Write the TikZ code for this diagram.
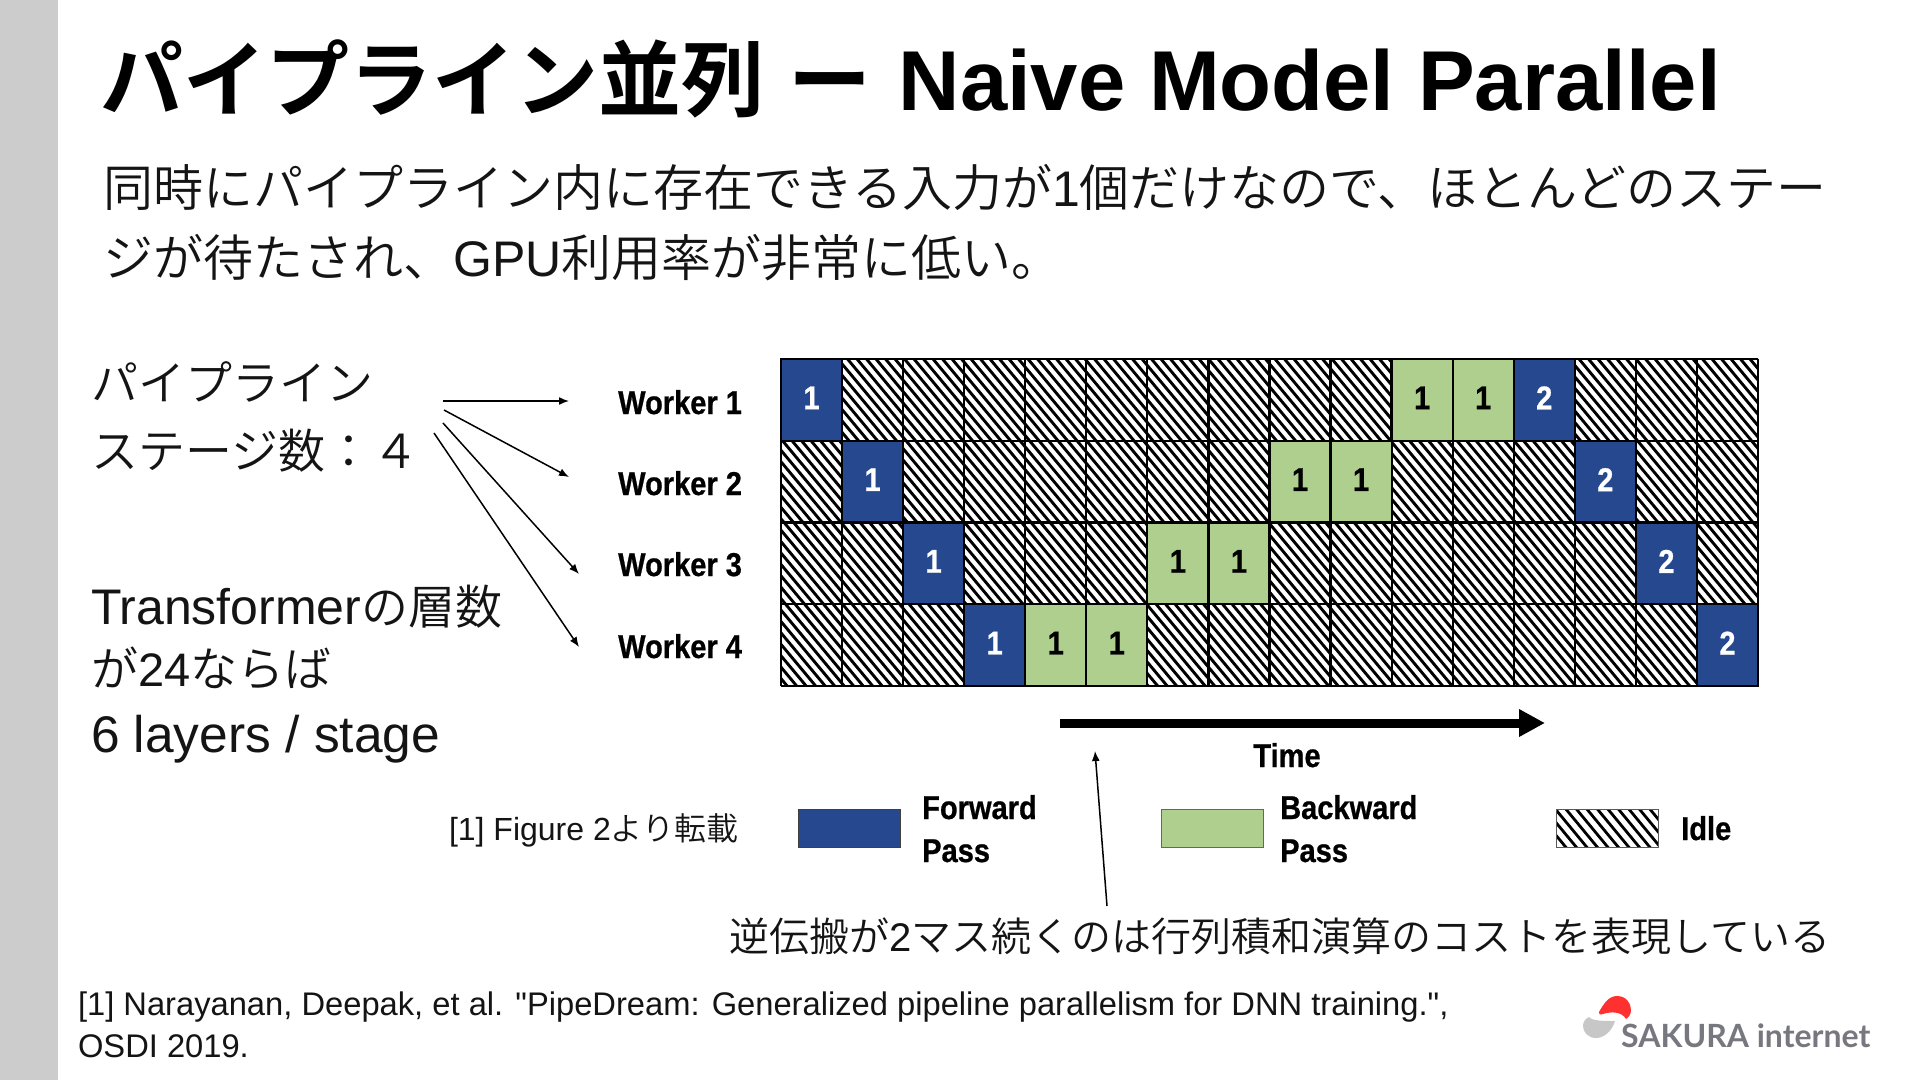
\documentclass[tikz,border=0pt]{standalone}
\usepackage{fontspec}
\setmainfont{Noto Sans CJK JP DemiLight}
\newfontfamily\titlefont{Noto Sans CJK JP Bold}
\newfontfamily\titlelat{Liberation Sans Bold}
\newfontfamily\lat{Liberation Sans}
\newfontfamily\figfont[FakeStretch=0.88,FakeBold=0.7]{Liberation Sans Bold}
\newfontfamily\logofont{Lato Bold}
\newcommand{\fsz}[1]{\fontsize{#1}{#1}\selectfont}
\newcommand{\la}[1]{{\lat #1}}
\usetikzlibrary{arrows.meta}
\definecolor{fwdblue}{HTML}{25488F}
\definecolor{backgreen}{HTML}{AFCF8E}
\definecolor{logogray}{HTML}{77777F}
\definecolor{barGray}{HTML}{CCCCCC}
\tikzset{
 txt/.style={anchor=base west,inner sep=0pt,outer sep=0pt,text=black!92},
 figlabel/.style={anchor=base west,inner sep=0pt,text=black,font=\figfont\fsz{33}},
 cellf/.style={draw=black,line width=2.2pt,fill=fwdblue,minimum width=61.1pt,minimum height=81.8pt,inner sep=0pt,text=white,font=\figfont\fsz{33}},
 cellb/.style={draw=black,line width=2.2pt,fill=backgreen,minimum width=61.1pt,minimum height=81.8pt,inner sep=0pt,text=black,font=\figfont\fsz{33}},
 arr/.style={draw=black,line width=1.5pt,-{Latex[length=10pt,width=8pt]},shorten >=0pt},
 hatchline/.style={draw=black,line width=2.9pt},
 legendbox/.style={minimum width=102pt,minimum height=38pt,inner sep=0pt,anchor=north west,line width=1.4pt}
}
\begin{document}
\begin{tikzpicture}[x=1pt,y=-1pt]
\useasboundingbox (0,0) rectangle (1920,1080);
\fill[white] (0,0) rectangle (1920,1080);
\fill[barGray] (0,0) rectangle (57.5,1080);
% title and body
\node[txt,text=black] (title) at (100,110) {\fsz{83}\titlefont パイプライン並列\hspace{6pt} ー\hspace{8pt} {\titlelat\fsz{85}Naive Model Parallel}};
\node[txt] (body1) at (103,206) {\fsz{50}同時にパイプライン内に存在できる入力が\la{1}個だけなので、ほとんどのステー};
\node[txt] (body2) at (103,276) {\fsz{50}ジが待たされ、\la{GPU}利用率が非常に低い。};
\node[txt] (left1) at (91,400) {\fsz{47}パイプライン};
\node[txt] (left2) at (91,468) {\fsz{47}ステージ数：４};
\node[txt] (left3) at (91,624) {\fsz{47}{\lat\fsz{50}Transformer}の層数};
\node[txt] (left4) at (91,686) {\fsz{47}が\la{24}ならば};
\node[txt] (left5) at (91,752) {\fsz{51.5}\la{6 layers / stage}};
% grid hatch
\begin{scope}
\clip (781,359) rectangle (1758,686);
\foreach \k in {-36,...,130}{
  \draw[hatchline] ({781+\k*9.5},359) ++(-10,-12) -- ++(308,370);
}
\end{scope}
\foreach \c in {0,...,16}{
  \draw[black,line width=2.2pt] ({781+\c*61.06},359) -- ({781+\c*61.06},686);
}
\foreach \r in {0,...,4}{
  \draw[black,line width=2.2pt] (781,{359+\r*81.75}) -- (1758,{359+\r*81.75});
}
% coloured cells
\foreach \nm/\c/\r/\st/\lab in {
 a/0/0/cellf/1,b/1/1/cellf/1,c/2/2/cellf/1,d/3/3/cellf/1,
 e/4/3/cellb/1,f/5/3/cellb/1,g/6/2/cellb/1,h/7/2/cellb/1,
 i/8/1/cellb/1,j/9/1/cellb/1,k/10/0/cellb/1,l/11/0/cellb/1,
 m/12/0/cellf/2,n/13/1/cellf/2,o/14/2/cellf/2,p/15/3/cellf/2}{
  \node[\st] (cell\nm) at ({781+(\c+0.5)*61.06},{359+(\r+0.5)*81.75}) {\raisebox{4pt}{\lab}};
}
% worker labels
\node[figlabel] (w1) at (618,414) {Worker 1};
\node[figlabel] (w2) at (618,495) {Worker 2};
\node[figlabel] (w3) at (618,576) {Worker 3};
\node[figlabel] (w4) at (618,658) {Worker 4};
% pipeline arrows
\coordinate (s1) at (443,401); \coordinate (t1) at (569,401);
\coordinate (s2) at (444,410); \coordinate (t2) at (569,477);
\coordinate (s3) at (443,423); \coordinate (t3) at (579,574);
\coordinate (s4) at (434,433); \coordinate (t4) at (579,647);
\draw[arr] (s1) -- (t1);
\draw[arr] (s2) -- (t2);
\draw[arr] (s3) -- (t3);
\draw[arr] (s4) -- (t4);
% time arrow
\coordinate (ts) at (1060,723); \coordinate (te) at (1545,723);
\draw[black,line width=9pt,-{Triangle[length=26pt,width=26pt]}] (ts) -- (te);
\node[figlabel,anchor=base] (time) at (1287,767) {Time};
% legend
\node[legendbox,draw=black!75,fill=fwdblue] (lf) at (798,809) {};
\node[legendbox,draw=black!60,fill=backgreen] (lb) at (1161,809) {};
\node[figlabel] (lf1) at (922,819) {Forward};
\node[figlabel] (lf2) at (922,862) {Pass};
\node[figlabel] (lb1) at (1280,819) {Backward};
\node[figlabel] (lb2) at (1280,862) {Pass};
\begin{scope}
\clip (1556,809) rectangle (1658,847);
\foreach \k in {-6,...,14}{
  \draw[black,line width=2.8pt] ({1556+\k*10.5-4},805) -- ({1556+\k*10.5+34},851);
}
\end{scope}
\node[legendbox,draw=black!65] (li) at (1556,809) {};
\node[figlabel] (li1) at (1681,840) {Idle};
\node[txt] (cap) at (449,840) {\fsz{32}\la{[1] Figure 2}より転載};
% annotation
\node[txt] (note) at (729,951) {\fsz{40}逆伝搬が\la{2}マス続くのは行列積和演算のコストを表現している};
\coordinate (ns) at (1107,906); \coordinate (nt) at (1095,751);
\draw[arr] (ns) -- (nt);
% reference
\node[txt] (ref1) at (78,1015) {\fsz{32.7}\la{[1] Narayanan, Deepak, et al. "PipeDream: Generalized pipeline parallelism for DNN training.",}};
\node[txt] (ref2) at (78,1057) {\fsz{32.7}\la{OSDI 2019.}};
% logo
\fill[red!75!pink] (1599,1012) .. controls (1604,1003) and (1609,996) .. (1617,996) .. controls (1626,996) and (1631,1003) .. (1631,1010) .. controls (1631,1014) and (1629,1017) .. (1626,1019) .. controls (1622,1012) and (1612,1011) .. (1603,1014) .. controls (1600,1015) and (1598,1014) .. (1599,1012) -- cycle;
\fill[black!22] (1589,1017) .. controls (1592,1021) and (1604,1021) .. (1615,1021) .. controls (1612,1031) and (1604,1038) .. (1596,1038) .. controls (1588,1038) and (1583,1032) .. (1583,1026) .. controls (1583,1022) and (1585,1019) .. (1589,1017) -- cycle;
\node[anchor=base west,inner sep=0pt,text=logogray] (logo) at (1621,1047) {\logofont\fsz{32}SAKURA internet};
\end{tikzpicture}
\end{document}
